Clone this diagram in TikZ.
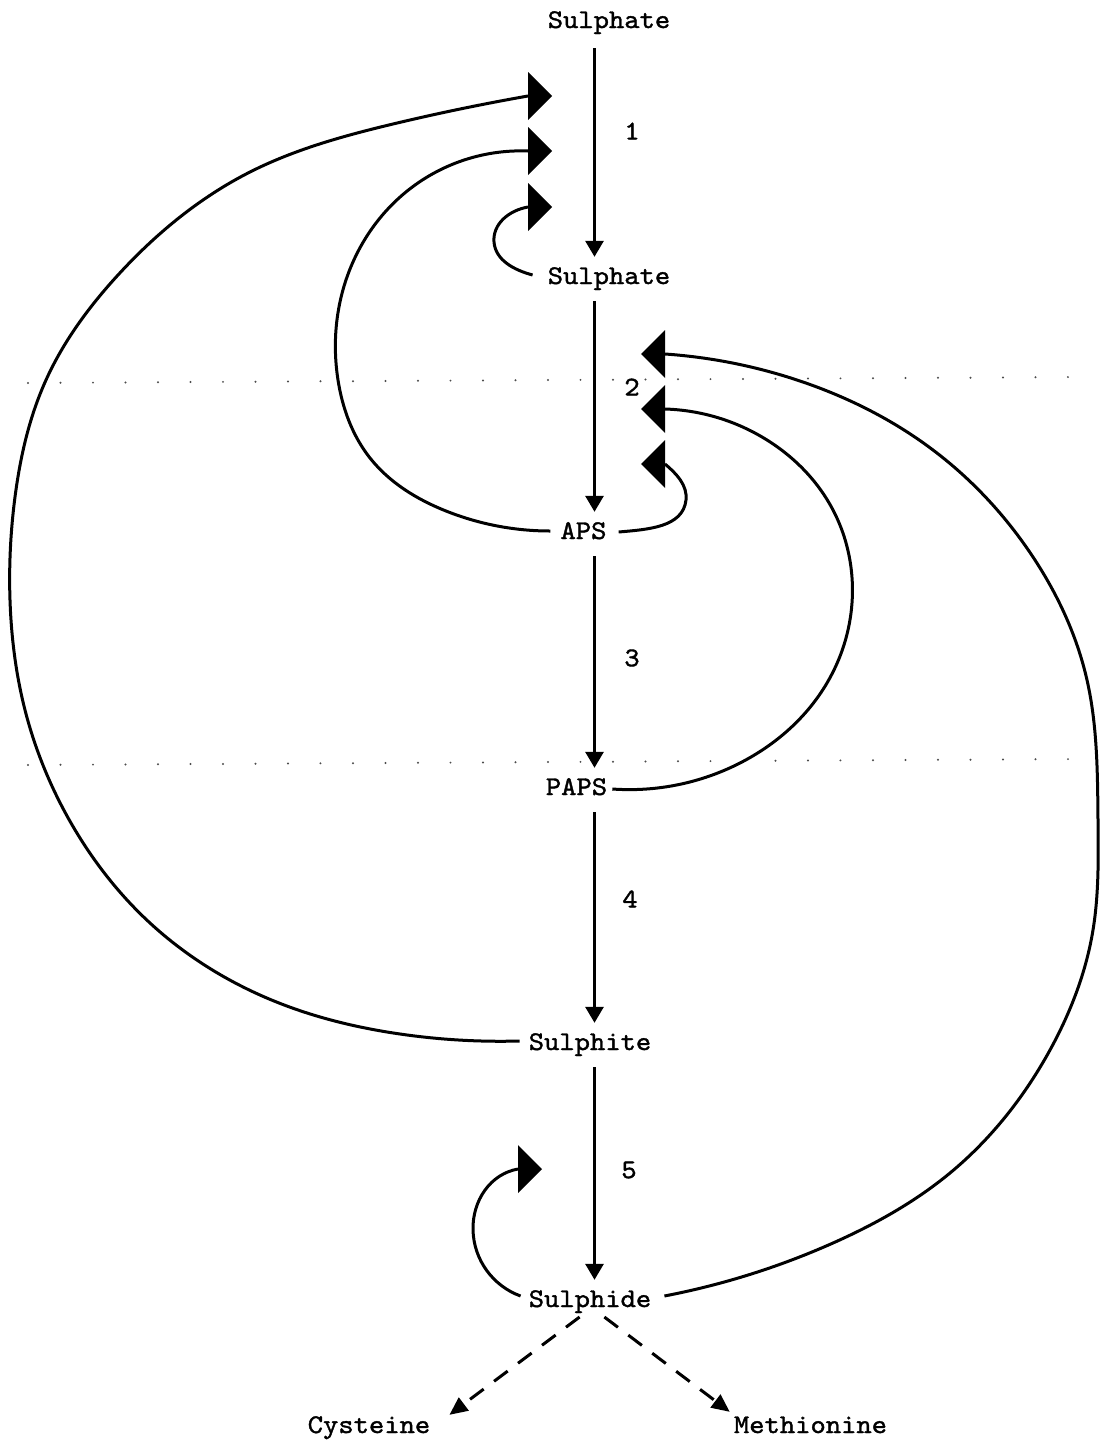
\documentclass[tikz,border=0pt]{standalone}
\usepackage{fontspec}
\setmonofont{lmmono10-regular.otf}[FakeStretch=1.08,FakeBold=1.4]
\usetikzlibrary{arrows.meta,hobby}
\begin{document}
\begin{tikzpicture}[x=1pt,y=-1pt,
  lbl/.style={font=\ttfamily\fontsize{27}{27}\selectfont, inner sep=0pt, text height=17pt, text depth=5pt, anchor=base},
  num/.style={font=\ttfamily\fontsize{27}{27}\selectfont, inner sep=0pt},
  mainarrow/.style={line width=3pt, -{Triangle[length=16pt,width=18pt]}, shorten >=10pt, shorten <=12pt},
  fb/.style={line width=3pt, use Hobby shortcut},
  dasharrow/.style={line width=3pt, dash pattern=on 17pt off 13pt, -{Triangle[length=18pt,width=16pt]}},
  dotline/.style={line width=2.2pt, line cap=round, dash pattern=on 0pt off 32.5pt, black!70},
  tipR/.pic={\fill (0,-24) -- (24,0) -- (0,24) -- cycle;},
  tipL/.pic={\fill (0,-24) -- (-24,0) -- (0,24) -- cycle;}
]
\useasboundingbox (0,0) rectangle (1101,1443);

% dotted guide lines
\draw[dotline] (28,383) -- (1085,377);
\draw[dotline] (28,765) -- (1085,759);

% metabolite nodes
\node[lbl] (s0)   at (609,28)   {Sulphate};
\node[lbl] (s1)   at (609,284)  {Sulphate};
\node[lbl] (aps)  at (583.5,539) {APS};
\node[lbl] (paps) at (576.5,795) {PAPS};
\node[lbl] (sit)  at (590,1050) {Sulphite};
\node[lbl] (sid)  at (590,1307) {Sulphide};
\node[lbl] (cys)  at (369,1433) {Cysteine};
\node[lbl] (met)  at (810.5,1433) {Methionine};

% step numbers
\node[num] (n1) at (632,131) {1};
\node[num] (n2) at (632,387) {2};
\node[num] (n3) at (632,658) {3};
\node[num] (n4) at (630,899) {4};
\node[num] (n5) at (629,1170) {5};

% main axis
\coordinate (ax) at (594.5,0);
\draw[mainarrow, shorten <=15pt] (s0.south -| ax) -- (s1.north -| ax);
\draw[mainarrow] (s1.south -| ax) -- (aps.north -| ax);
\draw[mainarrow] (aps.south -| ax) -- (paps.north -| ax);
\draw[mainarrow] (paps.south -| ax) -- (sit.north -| ax);
\draw[mainarrow] (sit.south -| ax) -- (sid.north -| ax);

% dashed branches
\draw[dasharrow, shorten <=8pt] ([xshift=-4pt]sid.south) -- ([xshift=19pt,yshift=1pt]cys.north east);
\draw[dasharrow, shorten <=8pt] ([xshift=8pt]sid.south) -- ([xshift=-4pt,yshift=4pt]met.north west);

% feedback markers
\coordinate (tA1) at (528,96);
\coordinate (tA2) at (528,151);
\coordinate (tA3) at (528,207);
\coordinate (tB1) at (665,354);
\coordinate (tB2) at (665,409);
\coordinate (tB3) at (665,464);
\coordinate (tC)  at (518,1169);
\pic at (tA1) {tipR};
\pic at (tA2) {tipR};
\pic at (tA3) {tipR};
\pic at (tB1) {tipL};
\pic at (tB2) {tipL};
\pic at (tB3) {tipL};
\pic at (tC)  {tipR};

% feedback curves
\draw[fb] ([xshift=-9pt,yshift=3pt]sit.west) .. (400,1034) .. (279,1003) .. (150,923) .. (71,823) .. (25,710) .. (10,600) .. (15,497) .. (46,380) .. (118,275) .. (250,172) .. (393,124) .. (tA1);
\draw[fb] ([xshift=-10pt,yshift=2pt]aps.west) .. (446,511) .. (370,458) .. (338,380) .. (345,283) .. (411,188) .. (tA2);
\draw[fb] ([xshift=-15pt,yshift=3pt,out angle=165]s1.west) .. (494,242) .. ([in angle=190]tA3);
\draw[fb] ([xshift=12pt,yshift=1pt,out angle=5]aps.east) .. (686,500) .. ([in angle=-40]tB3);
\draw[fb] ([xshift=5pt]paps.east) .. (740,763) .. (827,683) .. (852,603) .. (833,510) .. (767,440) .. (tB2);
\draw[fb] ([xshift=13pt,yshift=5pt]sid.east) .. (833,1243) .. (950,1173) .. (1050,1050) .. (1093,930) .. (1098,820) .. (1087,680) .. (1033,557) .. (933,450) .. (800,381) .. (tB1);
\draw[fb] ([xshift=-8pt,yshift=5pt,out angle=160]sid.west) .. (473,1230) .. ([in angle=190]tC);
\end{tikzpicture}
\end{document}
